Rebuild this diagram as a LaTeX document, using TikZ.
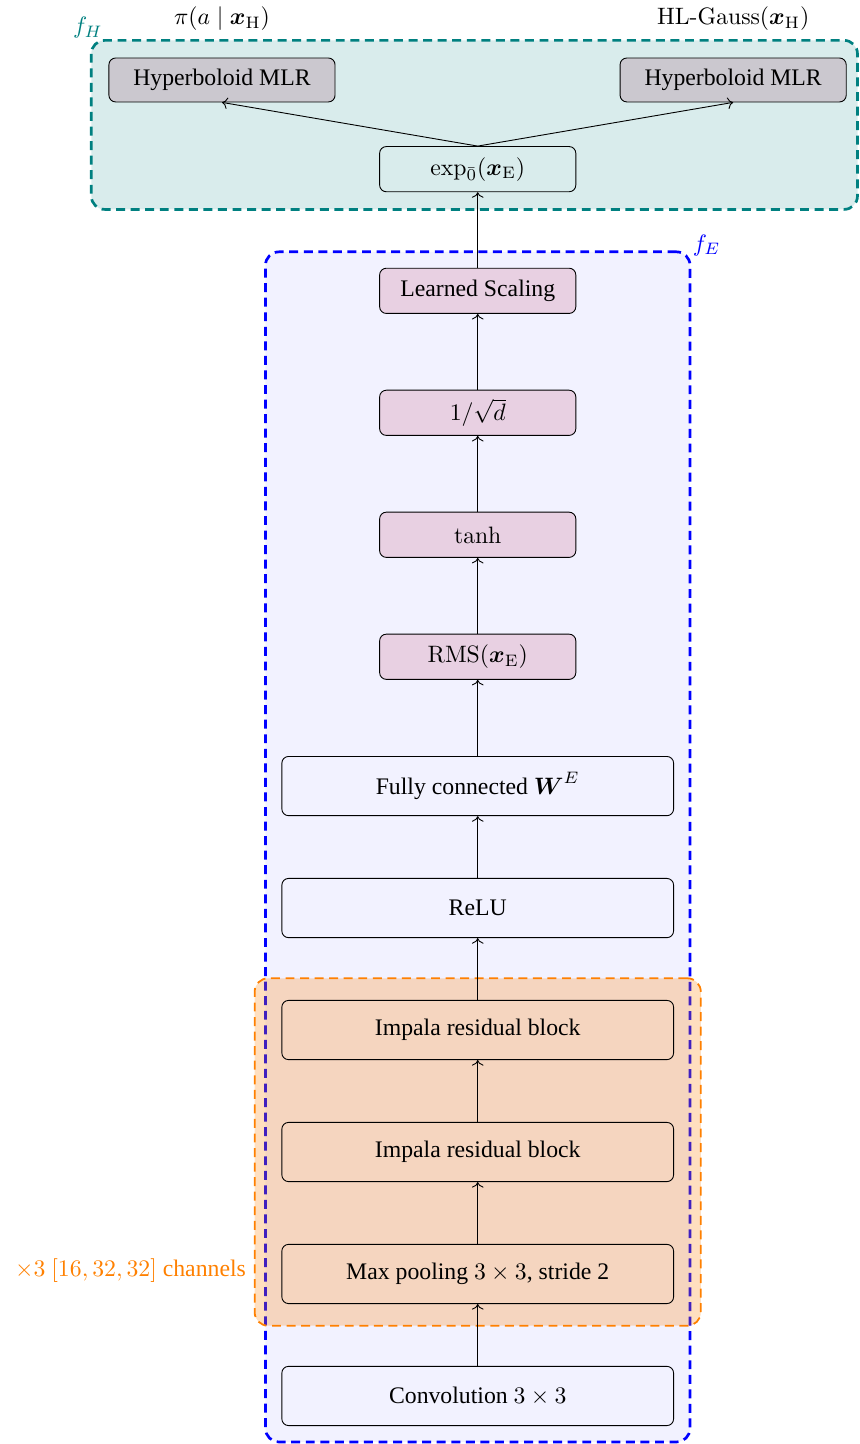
\RequirePackage{fix-cm}
\documentclass[tikz,border=0pt]{standalone}
\usepackage{amsmath}
\usepackage{amssymb}
\usepackage[no-math]{fontspec}
\setmainfont{Liberation Serif}
\usepackage{xcolor}
\usetikzlibrary{arrows.meta, positioning, calc, fit, backgrounds}

\definecolor{scalepink}{RGB}{232,208,226}
\definecolor{mlrgray}{RGB}{203,200,207}

\begin{document}
\begin{tikzpicture}[
    every node/.style = {font=\fontsize{10.6}{12.7}\selectfont},
    layer/.style = {draw, rounded corners=3pt, minimum width=6.15cm, minimum height=0.93cm, align=center},
    small/.style = {draw, rounded corners=3pt, minimum width=3.08cm, minimum height=0.71cm, align=center},
    norm/.style  = {small, fill=scalepink},
    head/.style  = {draw, rounded corners=3pt, minimum width=3.55cm, minimum height=0.69cm, fill=mlrgray},
    group/.style = {rounded corners=6pt, dash pattern=on 4pt off 2.5pt},
    node distance = 1.915cm, on grid
]
    \useasboundingbox (0,0) rectangle (13.5,22.67);

    % encoder f_E
    \node[layer] (conv) at (7.5,0.754) {Convolution $3 \times 3$};
    \node[layer, above=of conv] (pool) {Max pooling $3 \times 3$, stride 2};
    \node[layer, above=of pool] (res2) {Impala residual block};
    \node[layer, above=of res2] (res1) {Impala residual block};
    \node[layer, above=of res1] (relu) {ReLU};
    \node[layer, above=of relu] (fc) {Fully connected $\boldsymbol{W}^E$};
    \node[norm, above=2.03cm of fc] (rms) {$\mathrm{RMS}(\boldsymbol{x}_\mathrm{E})$};
    \node[norm, above=of rms] (tanh) {$\tanh$};
    \node[norm, above=of tanh] (sqrtd) {$1/\sqrt{d}$};
    \node[norm, above=of sqrtd] (lscale) {Learned Scaling};

    % hyperbolic head f_H
    \node[small, above=1.91cm of lscale] (expo) {$\exp_{\bar{0}}(\boldsymbol{x}_\mathrm{E})$};
    \node[head, above left=1.40cm and 4.015cm of expo] (mlrL) {Hyperboloid MLR};
    \node[head, above right=1.40cm and 4.01cm of expo] (mlrR) {Hyperboloid MLR};

    \node[above=0.96cm of mlrL] (policy) {$\pi(a \mid \boldsymbol{x}_\mathrm{H})$};
    \node[above=0.96cm of mlrR] (value) {$\operatorname{HL-Gauss}(\boldsymbol{x}_\mathrm{H})$};

    \draw[->] (conv) -- (pool);
    \draw[->] (pool) -- (res2);
    \draw[->] (res2) -- (res1);
    \draw[->] (res1) -- (relu);
    \draw[->] (relu) -- (fc);
    \draw[->] (fc) -- (rms);
    \draw[->] (rms) -- (tanh);
    \draw[->] (tanh) -- (sqrtd);
    \draw[->] (sqrtd) -- (lscale);
    \draw[->] (lscale) -- (expo);
    \draw[->] (expo.north) -- (mlrL.south);
    \draw[->] (expo.north) -- (mlrR.south);

    % groups
    \begin{scope}[on background layer]
        \node[group, draw=blue, very thick, fill=blue!5, inner sep=0.25cm,
              fit=(conv)(lscale)] (fE) {};
        \node[group, draw=orange, thick, fill=orange, fill opacity=0.25, draw opacity=1,
              inner xsep=0.42cm, inner ysep=0.34cm, fit=(pool)(res1)] (rep) {};
        \draw[group, draw=teal, very thick, fill=teal!15]
            ($(mlrL.north west)+(-0.27,0.27)$) rectangle ($(mlrR.east |- expo.south)+(0.17,-0.27)$);
    \end{scope}

    \node[teal] (fHlabel) at (1.38,22.23) {$f_H$};
    \node[blue] (fElabel) at ($(fE.north east)+(0.24,0.08)$) {$f_E$};
    \node[orange, anchor=east] (reps) at ($(rep.west |- pool)+(0,0.05)$) {$\times 3$ $[16, 32, 32]$ channels};
\end{tikzpicture}
\end{document}
